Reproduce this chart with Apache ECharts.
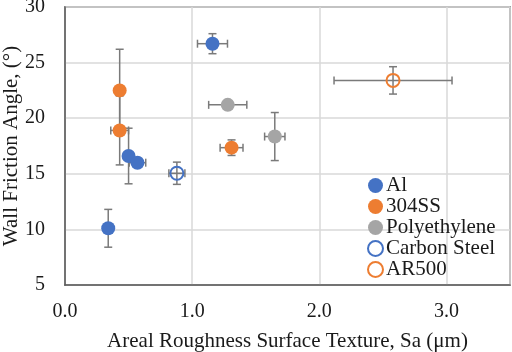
<!DOCTYPE html>
<html>
<head>
<meta charset="utf-8">
<script src="https://cdn.jsdelivr.net/npm/echarts@6/dist/echarts.min.js"></script>
<style>
  html, body { margin: 0; padding: 0; background: #fff; }
  #main { width: 512px; height: 352px; }
</style>
</head>
<body>
<div id="main"></div>
<script>
// values: x, y, x-error, y-error
var alX = [0.34, 0.50, 0.57, 1.16];
var alY = [10.1, 16.6, 16.0, 26.7];
var alXErr = [0.02, 0.03, 0.065, 0.118];
var alYErr = [1.7, 2.5, 0.4, 0.9];

var ssX = [0.43, 0.43, 1.31];
var ssY = [22.5, 18.9, 17.35];
var ssXErr = [0.02, 0.07, 0.09];
var ssYErr = [3.7, 3.1, 0.7];

var peX = [1.28, 1.65];
var peY = [21.2, 18.35];
var peXErr = [0.15, 0.08];
var peYErr = [0.3, 2.16];

var csX = [0.88];
var csY = [15.05];
var csXErr = [0.063];
var csYErr = [1.0];

var arX = [2.58];
var arY = [23.4];
var arXErr = [0.464];
var arYErr = [1.23];

var xTicks = ['0.0', '1.0', '2.0', '3.0'];
var yTicks = ['5', '10', '15', '20', '25', '30'];

var font = '"Liberation Serif", "DejaVu Serif", serif';
var blue = '#4472c4', orange = '#ed7d31', grey = '#a5a5a5', barColor = '#7a7a7a';
var textColor = '#1a1a1a';

function pts(xs, ys) {
    return xs.map(function (x, i) { return [x, ys[i]]; });
}
function errs(xs, ys, xe, ye) {
    return xs.map(function (x, i) { return [x, ys[i], xe[i], ye[i]]; });
}

var errData = []
    .concat(errs(alX, alY, alXErr, alYErr))
    .concat(errs(ssX, ssY, ssXErr, ssYErr))
    .concat(errs(peX, peY, peXErr, peYErr))
    .concat(errs(csX, csY, csXErr, csYErr))
    .concat(errs(arX, arY, arXErr, arYErr));

function renderErr(params, api) {
    var x = api.value(0), y = api.value(1), dx = api.value(2), dy = api.value(3);
    var l = api.coord([x - dx, y]), r = api.coord([x + dx, y]);
    var t = api.coord([x, y + dy]), b = api.coord([x, y - dy]);
    var cap = 4;
    var st = { stroke: barColor, lineWidth: 1.5 };
    var lines = [
        [l[0], l[1], r[0], r[1]],
        [l[0], l[1] - cap, l[0], l[1] + cap],
        [r[0], r[1] - cap, r[0], r[1] + cap],
        [t[0], t[1], b[0], b[1]],
        [t[0] - cap, t[1], t[0] + cap, t[1]],
        [b[0] - cap, b[1], b[0] + cap, b[1]]
    ];
    return {
        type: 'group',
        children: lines.map(function (s) {
            return { type: 'line', shape: { x1: s[0], y1: s[1], x2: s[2], y2: s[3] }, style: st };
        })
    };
}

var chart = echarts.init(document.getElementById('main'));
var option = {
    animation: false,
    grid: {
        left: 65, right: 2, top: 7, bottom: 67,
        containLabel: false, outerBoundsMode: 'none',
        show: true, borderColor: '#595959', borderWidth: 1.5
    },
    legend: {
        orient: 'vertical',
        left: 362, top: 170,
        itemWidth: 15, itemHeight: 15, itemGap: 0,
        textStyle: { fontFamily: font, fontSize: 21, color: textColor, padding: [0, 0, 0, -2] },
        data: ['Al', '304SS', 'Polyethylene', 'Carbon Steel', 'AR500']
    },
    xAxis: {
        type: 'value', min: 0, max: 3.5, interval: 1,
        name: 'Areal Roughness Surface Texture, Sa (μm)',
        nameLocation: 'middle', nameGap: 46, nameMoveOverlap: false,
        nameTextStyle: { fontFamily: font, fontSize: 21, color: textColor },
        axisLine: { show: true, lineStyle: { color: '#595959', width: 1.5 } },
        axisTick: { show: false },
        axisLabel: {
            fontFamily: font, fontSize: 20, color: textColor, margin: 17, showMaxLabel: false,
            formatter: function (v) { var i = Math.round(v); return v === i ? xTicks[i] : ''; }
        },
        splitLine: { lineStyle: { color: '#d9d9d9', width: 1.5 } }
    },
    yAxis: {
        type: 'value', min: 5, max: 30, interval: 5,
        name: 'Wall Friction Angle, (°)',
        nameLocation: 'middle', nameGap: 43, nameMoveOverlap: false,
        nameTextStyle: { fontFamily: font, fontSize: 21, color: textColor },
        axisLine: { show: true, lineStyle: { color: '#595959', width: 1.5 } },
        axisTick: { show: false },
        axisLabel: {
            fontFamily: font, fontSize: 20, color: textColor, margin: 20,
            formatter: function (v) { return yTicks[Math.round((v - 5) / 5)]; }
        },
        splitLine: { lineStyle: { color: '#d9d9d9', width: 1.5 } }
    },
    series: [
        {
            name: 'err', type: 'custom', renderItem: renderErr, data: errData, z: 1,
            encode: { x: 0, y: 1 }, silent: true
        },
        {
            name: 'Al', type: 'scatter', symbolSize: 14, z: 2,
            itemStyle: { color: blue, opacity: 1 }, data: pts(alX, alY)
        },
        {
            name: '304SS', type: 'scatter', symbolSize: 14, z: 2,
            itemStyle: { color: orange, opacity: 1 }, data: pts(ssX, ssY)
        },
        {
            name: 'Polyethylene', type: 'scatter', symbolSize: 14, z: 2,
            itemStyle: { color: grey, opacity: 1 }, data: pts(peX, peY)
        },
        {
            name: 'Carbon Steel', type: 'scatter', symbolSize: 13, z: 3,
            itemStyle: { color: 'rgba(255,255,255,0)', borderColor: blue, borderWidth: 2, opacity: 1 },
            data: pts(csX, csY)
        },
        {
            name: 'AR500', type: 'scatter', symbolSize: 13, z: 3,
            itemStyle: { color: 'rgba(255,255,255,0)', borderColor: orange, borderWidth: 2, opacity: 1 },
            data: pts(arX, arY)
        }
    ]
};
chart.setOption(option);
</script>
</body>
</html>
